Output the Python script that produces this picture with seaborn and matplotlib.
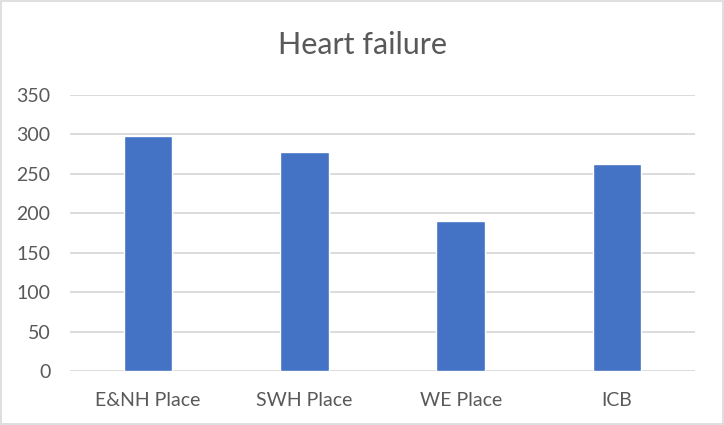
import matplotlib
matplotlib.use("Agg")
import matplotlib.pyplot as plt
import seaborn as sns
import pandas as pd

categories = ["E&NH Place", "SWH Place", "WE Place", "ICB"]
values = [298, 278, 190, 262]
yticks = [0, 50, 100, 150, 200, 250, 300, 350]
title = "Heart failure"

BAR = "#4472C4"
TEXT = "#595959"
GRID = "#D9D9D9"

sns.set_theme(style="white")
plt.rcParams["font.family"] = ["Lato", "DejaVu Sans"]

df = pd.DataFrame({"category": categories, "value": values})

fig = plt.figure(figsize=(7.24, 4.25), dpi=100)
ax = fig.add_axes([70 / 724, 1 - 371 / 425, 625 / 724, 276 / 425])

sns.barplot(data=df, x="category", y="value", color=BAR, width=0.31,
            saturation=1, ax=ax, zorder=3)

ax.set_xlim(-0.5, len(categories) - 0.5)
ax.set_ylim(0, 350)
ax.set_yticks(yticks)
ax.set_yticklabels([str(v) for v in yticks])
ax.yaxis.grid(True, color=GRID, linewidth=1.3, zorder=0)
ax.set_axisbelow(True)
for s in ax.spines.values():
    s.set_visible(False)
ax.tick_params(axis="both", length=0, labelsize=14, colors=TEXT)
ax.tick_params(axis="y", pad=14)
ax.tick_params(axis="x", pad=15)
ax.set_xlabel("")
ax.set_ylabel("")

fig.text(0.5, 1 - 45 / 425, title, ha="center", va="center",
         fontsize=22, color=TEXT)

# outer chart border
fig.patches.append(plt.Rectangle((1 / 724, 1 / 425), 722 / 724, 423 / 425,
                                 transform=fig.transFigure, fill=False,
                                 edgecolor=GRID, linewidth=1.2))

fig.savefig("out.png", dpi=100, facecolor="white")
